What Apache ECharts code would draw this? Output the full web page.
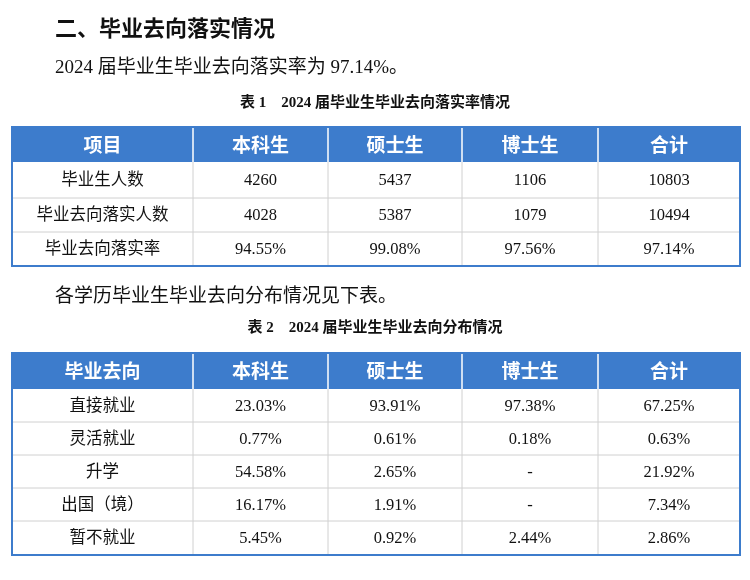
<!DOCTYPE html>
<html><head><meta charset="utf-8">
<script src="https://cdn.jsdelivr.net/npm/echarts@6/dist/echarts.min.js"></script>
<style>html,body{margin:0;padding:0;background:#fff}#c{width:750px;height:580px}</style>
</head><body><div id="c"></div>
<script>
const heading = "二、毕业去向落实情况";
const line1 = "2024 届毕业生毕业去向落实率为 97.14%。";
const cap1 = "表 1    2024 届毕业生毕业去向落实率情况";
const head1 = ["项目","本科生","硕士生","博士生","合计"];
const rows1 = ["毕业生人数","毕业去向落实人数","毕业去向落实率"];
const bachelor1 = ["4260","4028","94.55%"];
const master1 = ["5437","5387","99.08%"];
const doctor1 = ["1106","1079","97.56%"];
const total1 = ["10803","10494","97.14%"];
const line2 = "各学历毕业生毕业去向分布情况见下表。";
const cap2 = "表 2    2024 届毕业生毕业去向分布情况";
const head2 = ["毕业去向","本科生","硕士生","博士生","合计"];
const rows2 = ["直接就业","灵活就业","升学","出国（境）","暂不就业"];
const bachelor2 = ["23.03%","0.77%","54.58%","16.17%","5.45%"];
const master2 = ["93.91%","0.61%","2.65%","1.91%","0.92%"];
const doctor2 = ["97.38%","0.18%","-","-","2.44%"];
const total2 = ["67.25%","0.63%","21.92%","7.34%","2.86%"];

const FONT = '"Liberation Serif","Noto Sans CJK SC",serif';
const colX = [12,193,328,462,598,740];
const g = [];
function text(x,y,s,size,opts){g.push({type:'text',x,y,style:Object.assign({text:s,fontSize:size,fontFamily:FONT,fill:'#111',textVerticalAlign:'middle'},opts||{})});}
function table(top, headH, rowHs, head, rowsLabels, cols){
  const bottom = rowHs.reduce((a,b)=>a+b, top+headH);
  g.push({type:'rect',shape:{x:colX[0],y:top,width:colX[5]-colX[0],height:headH},style:{fill:'#3d7ccc'}});
  // inner grid
  let y = top+headH;
  rowHs.forEach((h,i)=>{ if(i>0) g.push({type:'line',shape:{x1:colX[0],y1:y,x2:colX[5],y2:y},style:{stroke:'#d0d0d0',lineWidth:1}}); y+=h; });
  for(let c=1;c<5;c++){
    g.push({type:'line',shape:{x1:colX[c],y1:top,x2:colX[c],y2:top+headH},style:{stroke:'#ffffff',lineWidth:1.5}});
    g.push({type:'line',shape:{x1:colX[c],y1:top+headH,x2:colX[c],y2:bottom},style:{stroke:'#d0d0d0',lineWidth:1}});
  }
  g.push({type:'rect',shape:{x:colX[0],y:top,width:colX[5]-colX[0],height:bottom-top},style:{fill:'none',stroke:'#3d7ccc',lineWidth:2}});
  head.forEach((s,c)=>text((colX[c]+colX[c+1])/2, top+headH/2, s, 19, {fill:'#fff',fontWeight:'bold',textAlign:'center',fontFamily:'"Noto Sans CJK SC",sans-serif'}));
  y = top+headH;
  rowHs.forEach((h,r)=>{
    const vals=[rowsLabels[r]].concat(cols.map(a=>a[r]));
    vals.forEach((s,c)=>text((colX[c]+colX[c+1])/2, y+h/2+1, s, 16.5, {textAlign:'center'}));
    y+=h;
  });
}
text(55,28,heading,22,{fontWeight:'bold',fontFamily:'"Noto Sans CJK SC",sans-serif'});
text(55,68,line1,19);
text(375,103,cap1,15,{textAlign:'center',fontWeight:'bold'});
table(127,35,[36,34,34],head1,rows1,[bachelor1,master1,doctor1,total1]);
text(55,297,line2,19);
text(375,328,cap2,15,{textAlign:'center',fontWeight:'bold'});
table(353,36,[33,33,33,33,34],head2,rows2,[bachelor2,master2,doctor2,total2]);

const chart = echarts.init(document.getElementById('c'));
chart.setOption({animation:false,graphic:{elements:g}});
</script></body></html>
